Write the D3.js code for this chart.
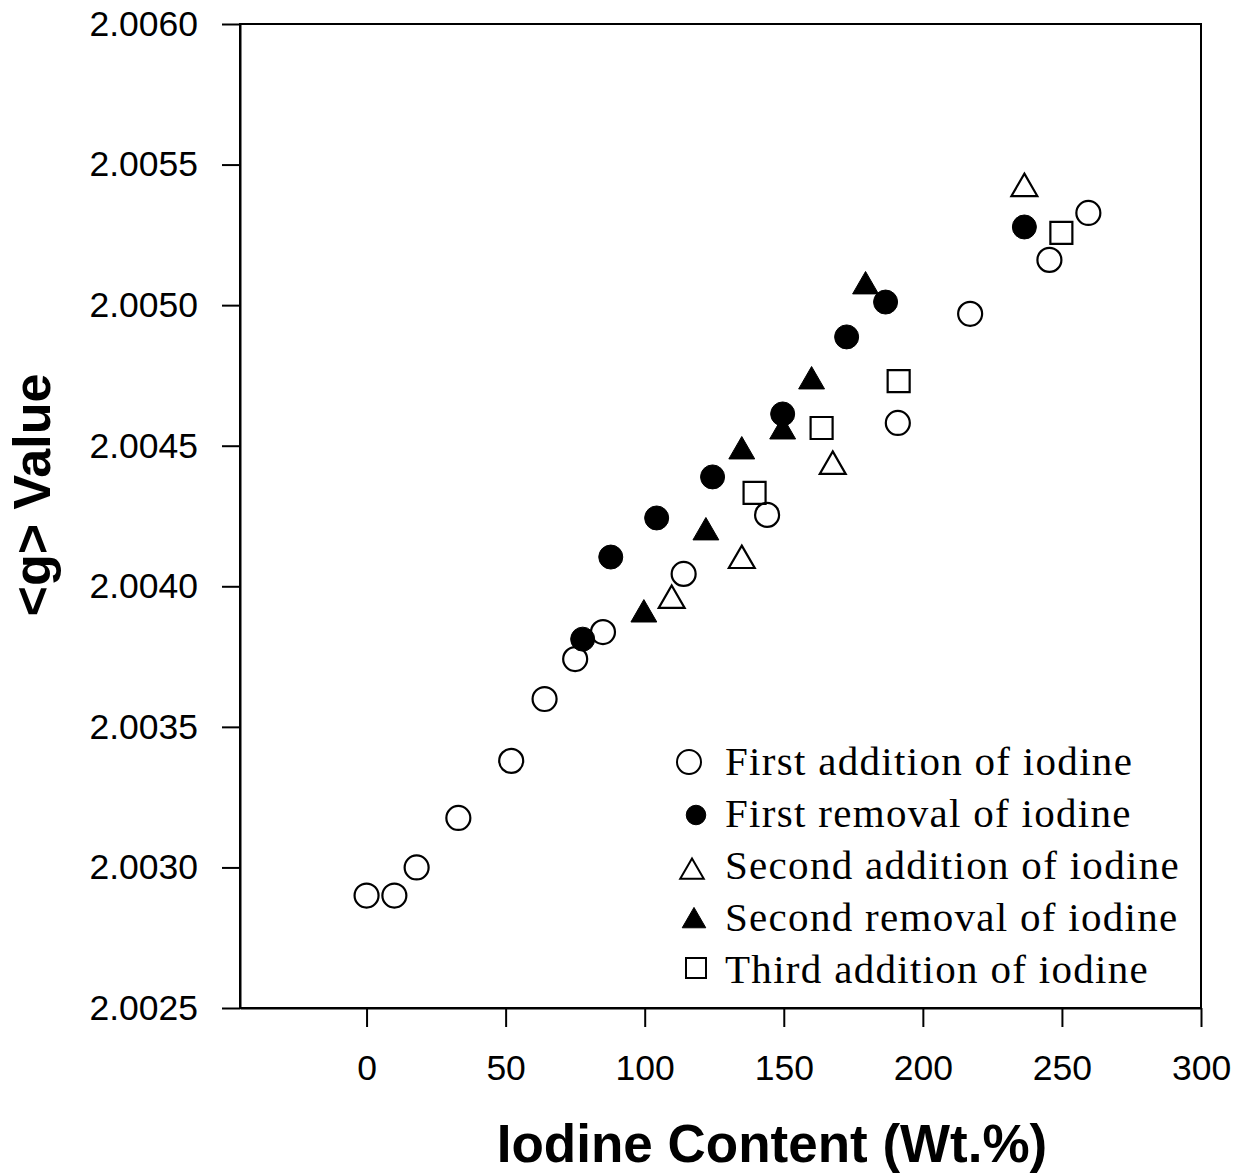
<!DOCTYPE html>
<html>
<head>
<meta charset="utf-8">
<script src="https://cdn.jsdelivr.net/npm/d3@7"></script>
<style>
  body { margin: 0; background: #fff; }
  svg { display: block; }
</style>
</head>
<body>
<div id="chart"></div>
<script>
// Data (x = iodine wt.%, y = <g> value)
const firstAddX = [0, 10, 18, 33, 52, 64, 75, 85, 114, 144, 191, 217, 245.5, 259.5];
const firstAddY = [2.00290, 2.00290, 2.00300, 2.003176, 2.003379, 2.003599, 2.003741, 2.003837, 2.004044, 2.004254, 2.004581, 2.004969, 2.005161, 2.005328];

const firstRemX = [77.7, 87.8, 104.3, 124.4, 149.6, 172.6, 186.6, 236.5];
const firstRemY = [2.003812, 2.004104, 2.004243, 2.004389, 2.004613, 2.004887, 2.005011, 2.005278];

const secondAddX = [109.7, 134.9, 167.6, 236.5];
const secondAddY = [2.003962, 2.004104, 2.004439, 2.005427];

const secondRemX = [99.7, 122.0, 134.9, 149.6, 160.0, 179.4];
const secondRemY = [2.003912, 2.004204, 2.004492, 2.004563, 2.004741, 2.005079];

const thirdAddX = [139.5, 163.6, 191.3, 249.8];
const thirdAddY = [2.004332, 2.004563, 2.004730, 2.005257];

const xTicks = [0, 50, 100, 150, 200, 250, 300];
const yTicks = [2.0025, 2.0030, 2.0035, 2.0040, 2.0045, 2.0050, 2.0055, 2.0060];

const seriesNames = [
  "First addition of iodine",
  "First removal of iodine",
  "Second addition of iodine",
  "Second removal of iodine",
  "Third addition of iodine"
];

const width = 1240;
const height = 1176;
const plot = { left: 240, top: 24, right: 1201, bottom: 1008 };

const svg = d3.select("#chart")
  .append("svg")
  .attr("width", width)
  .attr("height", height);

// Scales
const x = d3.scaleLinear()
  .domain([-45.5, 300])
  .range([plot.left, plot.right]);

const y = d3.scaleLinear()
  .domain([2.0025, 2.0060])
  .range([plot.bottom, plot.top]);

// Frame
svg.append("rect")
  .attr("x", plot.left)
  .attr("y", plot.top)
  .attr("width", plot.right - plot.left)
  .attr("height", plot.bottom - plot.top)
  .attr("fill", "none")
  .attr("stroke", "#000")
  .attr("stroke-width", 2);

// X axis
const xAxis = svg.append("g")
  .attr("transform", `translate(0, ${plot.bottom})`)
  .call(d3.axisBottom(x).tickValues(xTicks).tickFormat(d3.format("d"))
    .tickSize(19).tickSizeOuter(0).tickPadding(28));

// Y axis
const yAxis = svg.append("g")
  .attr("transform", `translate(${plot.left}, 0)`)
  .call(d3.axisLeft(y).tickValues(yTicks).tickFormat(d3.format(".4f"))
    .tickSize(18).tickSizeOuter(0).tickPadding(24));

[xAxis, yAxis].forEach(g => {
  g.select(".domain").attr("stroke", "#000").attr("stroke-width", 2);
  g.selectAll(".tick line").attr("stroke", "#000").attr("stroke-width", 2);
  g.selectAll(".tick text")
    .attr("fill", "#000")
    .style("font-family", "'Liberation Sans', Arial, sans-serif")
    .style("font-size", "35.5px");
});

// Axis titles
svg.append("text")
  .attr("transform", "translate(50, 495) rotate(-90)")
  .attr("text-anchor", "middle")
  .style("font-family", "'Liberation Sans', Arial, sans-serif")
  .style("font-weight", "bold")
  .style("font-size", "52px")
  .text("<g> Value");

svg.append("text")
  .attr("x", 772)
  .attr("y", 1162)
  .attr("text-anchor", "middle")
  .style("font-family", "'Liberation Sans', Arial, sans-serif")
  .style("font-weight", "bold")
  .style("font-size", "53px")
  .text("Iodine Content (Wt.%)");

// Marker styles per series
const styles = [
  { type: d3.symbolCircle, size: 452, filled: false, dy: 0 },
  { type: d3.symbolCircle, size: 452, filled: true, dy: 0 },
  { type: d3.symbolTriangle, size: 290, filled: false, dy: 3.5 },
  { type: d3.symbolTriangle, size: 290, filled: true, dy: 3.5 },
  { type: d3.symbolSquare, size: 484, filled: false, dy: 0 }
];

const seriesX = [firstAddX, firstRemX, secondAddX, secondRemX, thirdAddX];
const seriesY = [firstAddY, firstRemY, secondAddY, secondRemY, thirdAddY];

const points = svg.append("g");
seriesX.forEach((xs, i) => {
  const st = styles[i];
  const data = xs.map((v, j) => ({ x: v, y: seriesY[i][j] }));
  points.selectAll(`.s${i}`)
    .data(data)
    .enter()
    .append("path")
    .attr("class", `s${i}`)
    .attr("transform", d => `translate(${x(d.x)}, ${y(d.y) + st.dy})`)
    .attr("d", d3.symbol().type(st.type).size(st.size))
    .attr("fill", st.filled ? "#000" : "none")
    .attr("stroke", "#000")
    .attr("stroke-width", st.filled ? 1 : 2.2);
});

// Legend
const legendRows = [
  { mx: 689, my: 762, size: 452 },
  { mx: 696, my: 815, size: 300 },
  { mx: 692, my: 872, size: 240 },
  { mx: 694, my: 921, size: 240 },
  { mx: 696, my: 968, size: 400 }
];

const legend = svg.append("g");
seriesNames.forEach((name, i) => {
  const r = legendRows[i];
  const st = styles[i];
  legend.append("path")
    .attr("transform", `translate(${r.mx}, ${r.my})`)
    .attr("d", d3.symbol().type(st.type).size(r.size))
    .attr("fill", st.filled ? "#000" : "none")
    .attr("stroke", "#000")
    .attr("stroke-width", st.filled ? 1 : 2);
  legend.append("text")
    .attr("x", 725)
    .attr("y", 775 + i * 52)
    .style("font-family", "'Liberation Serif', 'Times New Roman', serif")
    .style("font-size", "41px")
    .style("letter-spacing", "1.3px")
    .text(name);
});
</script>
</body>
</html>
